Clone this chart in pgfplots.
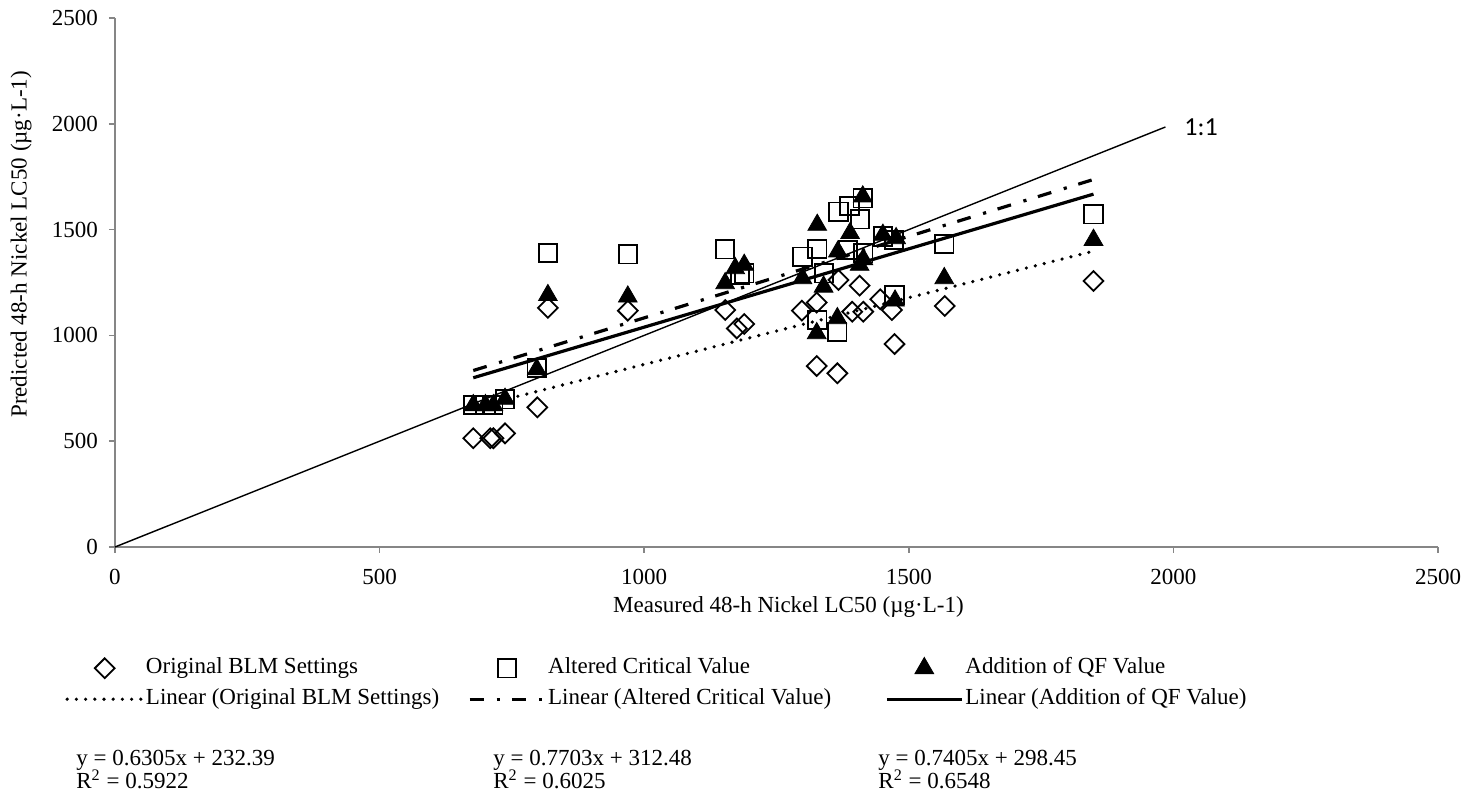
\documentclass[border=0pt]{standalone}
\usepackage{fontspec}
\setmainfont{Liberation Serif}
\newfontfamily\calibri{Carlito}
\usepackage{pgfplots}
\usepackage{pgfplotstable}
\pgfplotsset{compat=1.18}
\definecolor{axisgray}{HTML}{868686}

\pgfplotstableread{
x y
677 514
709 514
715 514
737 537
798 660
818 1130
969 1117
1153 1120
1175 1033
1189 1054
1298 1117
1326 1155
1326 855
1365 821
1367 1262
1393 1112
1407 1235
1414 1112
1446 1171
1468 1120
1473 959
1568 1139
1849 1257
}\origdata

\pgfplotstableread{
x y
677 671
700 671
715 671
737 698
797 845
818 1389
969 1383
1153 1407
1181 1285
1189 1293
1299 1372
1327 1408
1340 1293
1327 1073
1365 1017
1367 1585
1388 1611
1413 1648
1408 1549
1385 1404
1414 1388
1451 1467
1472 1451
1473 1191
1567 1432
1849 1572
}\altdata

\pgfplotstableread{
x y
677 670
700 670
715 670
737 700
797 840
818 1190
969 1183
1153 1246
1172 1317
1189 1333
1299 1270
1327 1522
1339 1230
1326 1010
1365 1081
1366 1396
1389 1483
1413 1656
1407 1333
1414 1360
1451 1475
1476 1459
1474 1164
1567 1270
1849 1451
}\qfdata

\pgfplotsset{
  keyline/.style={legend image code/.code={\draw[##1] (0pt,0pt) -- (37.5pt,0pt);}},
  keymark/.style={legend image code/.code={\draw[##1, mark repeat=2, mark phase=2] plot coordinates {(0pt,0pt) (18.75pt,0pt) (37.5pt,0pt)};}},
}

\begin{document}
\begin{tikzpicture}[font=\fontsize{11.5}{13.8}\selectfont]
\begin{axis}[
  name=ax,
  scale only axis,
  width=661.5pt, height=264.5pt,
  xmin=0, xmax=2500, ymin=0, ymax=2500,
  axis lines*=left,
  axis line style={draw=axisgray, line width=0.8pt},
  tick style={draw=axisgray, line width=0.8pt},
  tick align=outside,
  major tick length=3pt,
  xtick={0,500,...,2500},
  ytick={0,500,...,2500},
  /pgf/number format/assume math mode=true,
  /pgf/number format/1000 sep={},
  xticklabel style={yshift=-4.5pt},
  yticklabel style={xshift=-2pt},
  xlabel={Measured 48-h Nickel LC50 (µg·L-1)},
  ylabel={Predicted 48-h Nickel LC50 (µg·L-1)},
  every axis x label/.style={at={(axis description cs:0.509,-0.1134)}, anchor=center},
  every axis y label/.style={at={(axis description cs:-0.071,0.572)}, rotate=90, anchor=center},
  legend columns=3,
  legend style={
    draw=none, fill=none,
    at={(axis description cs:-0.0378,-0.208)}, anchor=north west,
    inner sep=0pt, row sep=5pt,
    nodes={inner sep=0pt, text height=8pt, text depth=2.5pt},
    /tikz/every odd column/.append style={column sep=1pt},
    /tikz/every even column/.append style={column sep=0pt},
  },
  legend cell align=left,
  clip=false,
]
\addplot[forget plot, black, line width=0.7pt] coordinates {(0,0) (1985,1985)};

\addplot[only marks, mark=square, mark size=3.5pt,
  mark options={rotate=45, line width=0.9pt, draw=black}, keymark] table {\origdata};
\addlegendentry{\makebox[161pt][l]{Original BLM Settings}}
\addplot[only marks, mark=square, mark size=4.6pt,
  mark options={line width=0.9pt, draw=black}, keymark] table {\altdata};
\addlegendentry{\makebox[168.5pt][l]{Altered Critical Value}}
\addplot[only marks, mark=triangle*, mark size=5.4pt,
  mark options={draw=black, fill=black}, keymark] table {\qfdata};
\addlegendentry{\makebox[165pt][l]{Addition of QF Value}}

\addplot[black, line width=1.8pt, line cap=round, dash pattern=on 0pt off 4.6pt, keyline]
  coordinates {(677,659.2) (1849,1398.2)};
\addlegendentry{\makebox[161pt][l]{Linear (Original BLM Settings)}}
\addplot[black, line width=1.6pt, dash pattern=on 7pt off 6.5pt on 1.6pt off 6pt, keyline]
  coordinates {(677,834.0) (1849,1736.8)};
\addlegendentry{\makebox[168.5pt][l]{Linear (Altered Critical Value)}}
\addplot[black, line width=1.6pt, keyline]
  coordinates {(677,799.8) (1849,1667.6)};
\addlegendentry{\makebox[165pt][l]{Linear (Addition of QF Value)}}

\node[anchor=west, inner sep=0pt, font=\calibri\fontsize{13}{15}\selectfont] at (axis cs:2020,1985) {1:1};
\end{axis}

\node[anchor=base west, inner sep=0pt] at ([shift={(-19.5pt,-109.5pt)}]ax.south west) {y = 0.6305x + 232.39};
\node[anchor=base west, inner sep=0pt] at ([shift={(-19.5pt,-121pt)}]ax.south west) {R\textsuperscript{2} = 0.5922};
\node[anchor=base west, inner sep=0pt] at ([shift={(189pt,-109.5pt)}]ax.south west) {y = 0.7703x + 312.48};
\node[anchor=base west, inner sep=0pt] at ([shift={(189pt,-121pt)}]ax.south west) {R\textsuperscript{2} = 0.6025};
\node[anchor=base west, inner sep=0pt] at ([shift={(381.5pt,-109.5pt)}]ax.south west) {y = 0.7405x + 298.45};
\node[anchor=base west, inner sep=0pt] at ([shift={(381.5pt,-121pt)}]ax.south west) {R\textsuperscript{2} = 0.6548};

\pgfresetboundingbox
\path[use as bounding box] ([shift={(-57.5pt,-127pt)}]ax.south west) rectangle ([shift={(677.5pt,273.5pt)}]ax.south west);
\end{tikzpicture}
\end{document}
